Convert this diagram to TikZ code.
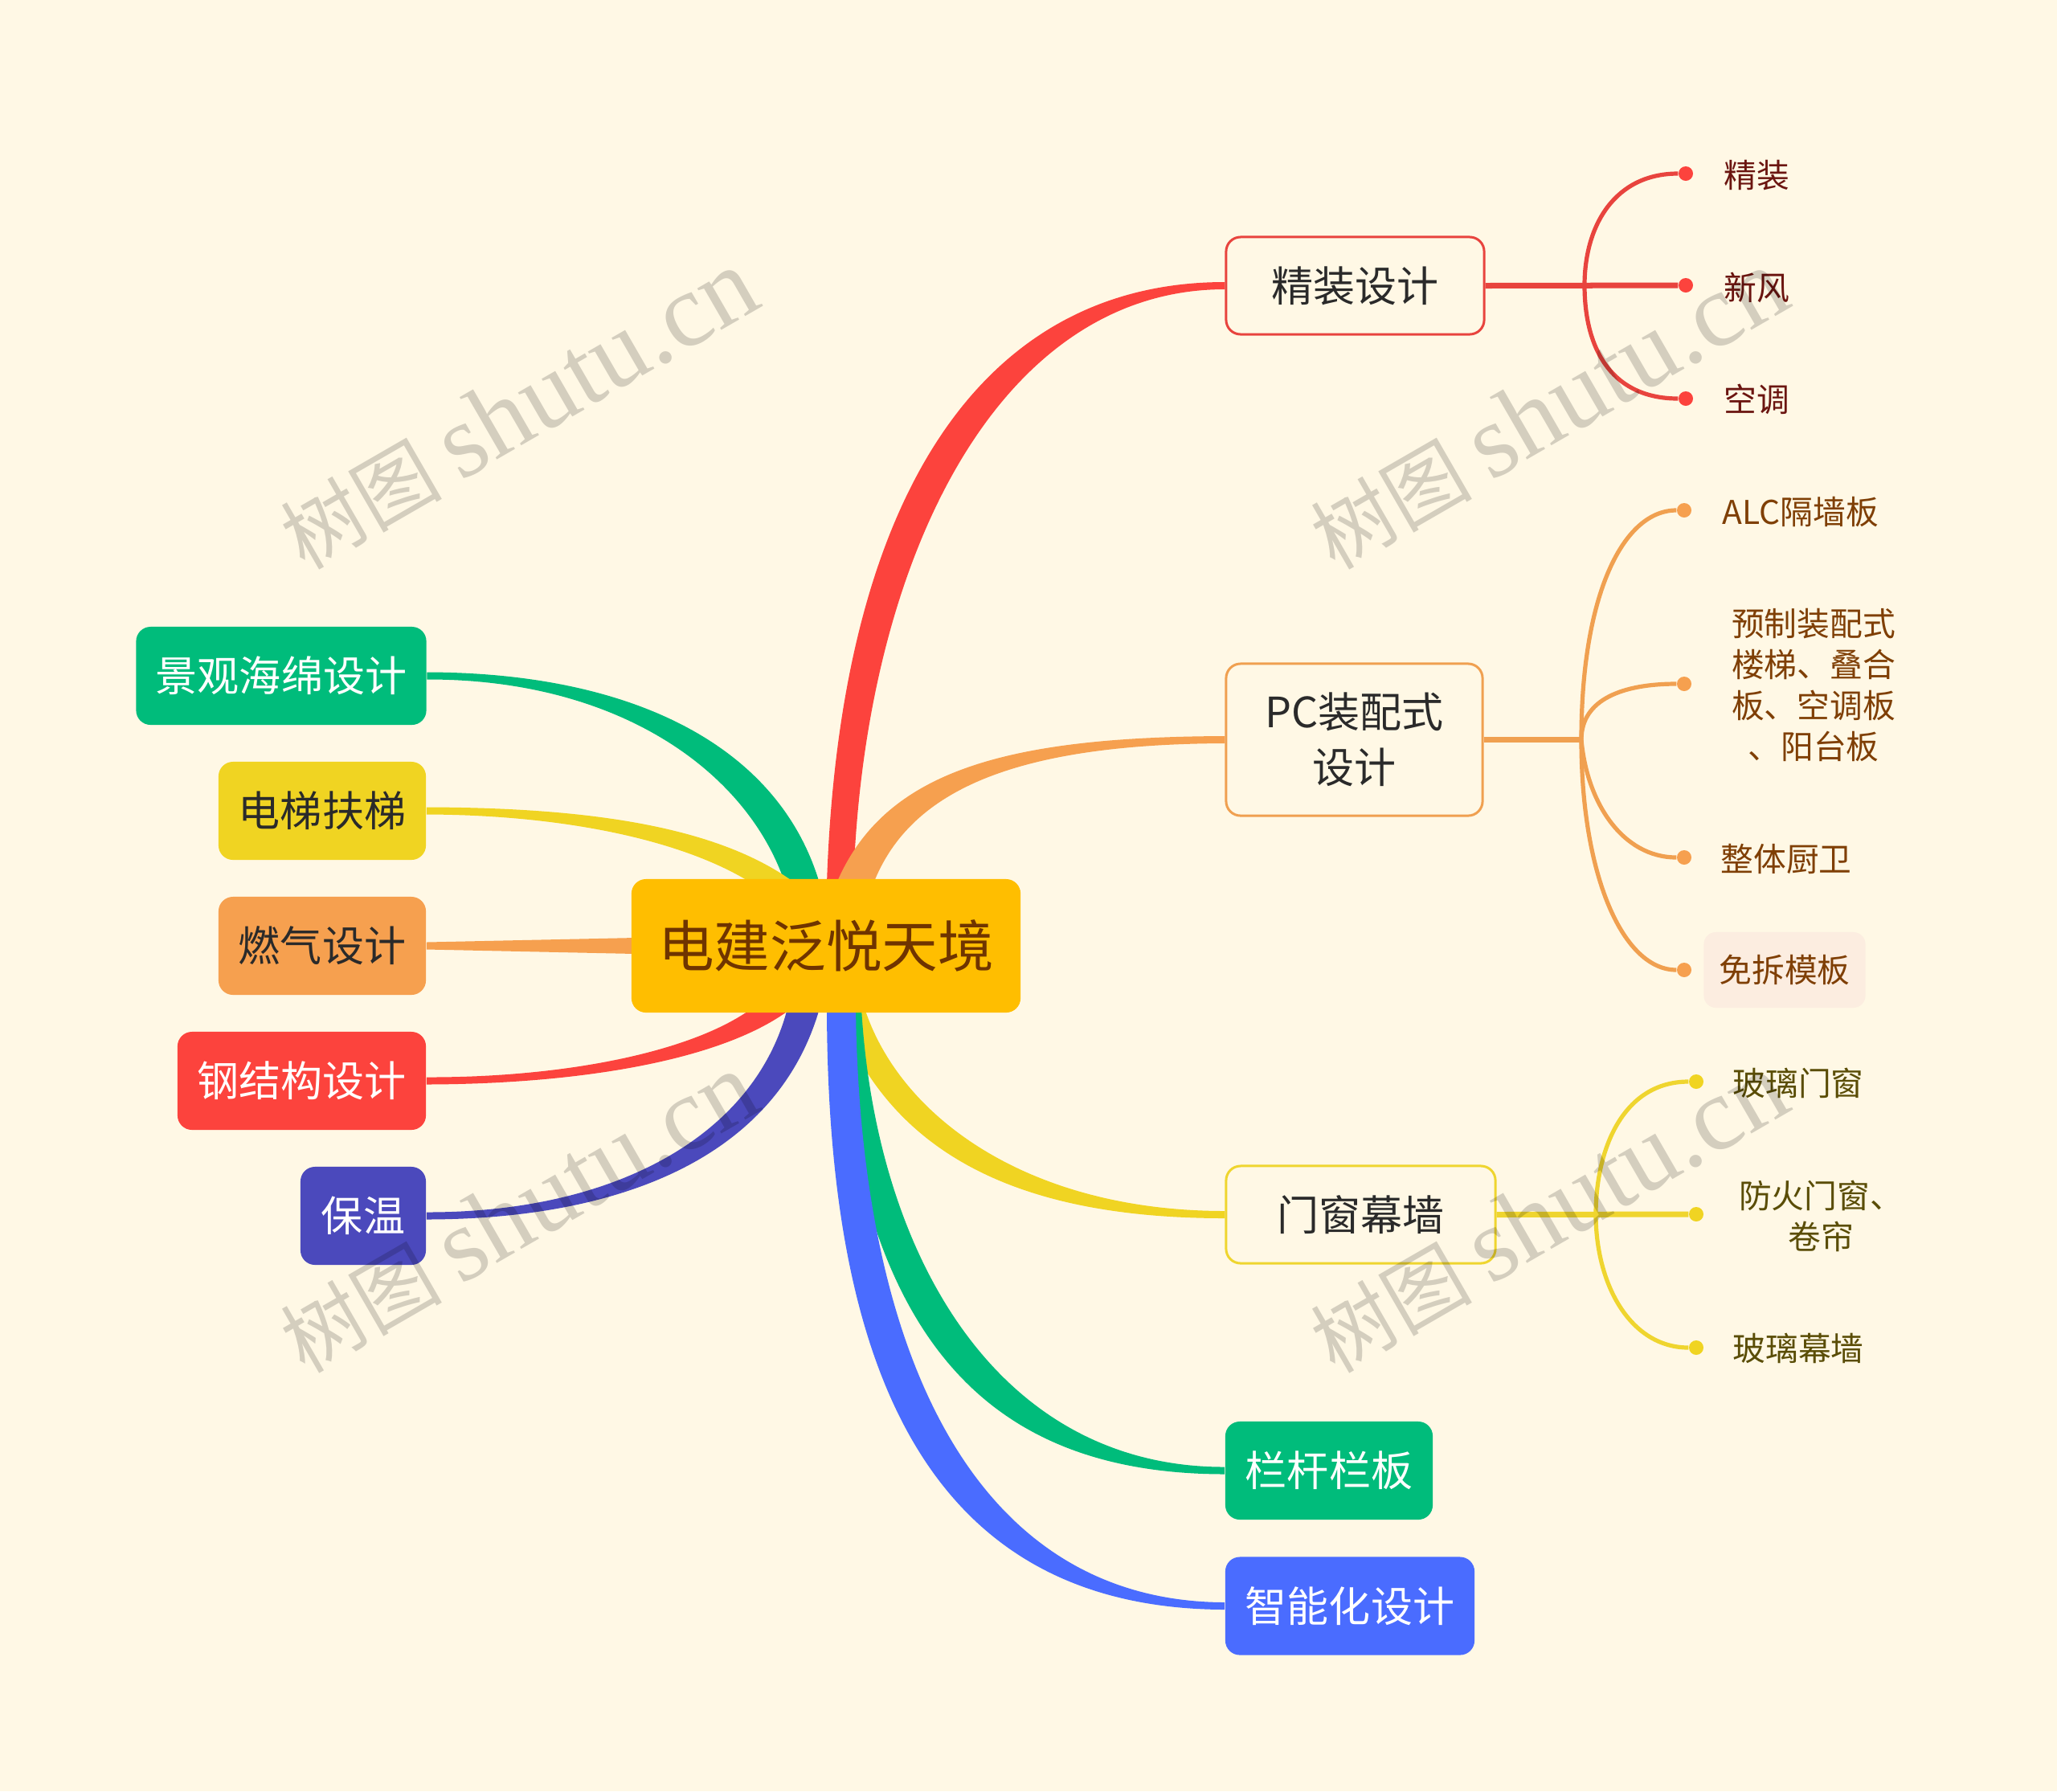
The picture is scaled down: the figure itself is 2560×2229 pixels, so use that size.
\documentclass[tikz,border=0pt]{standalone}
\usepackage{fontspec}
\usetikzlibrary{backgrounds}
\setmainfont{Noto Sans CJK SC}
\newfontfamily\marklatin[AutoFakeSlant=0.2]{Liberation Serif}
\newfontfamily\markcjk[AutoFakeSlant=0.2]{Noto Sans CJK SC}

\definecolor{bgCream}{HTML}{FFF8E5}
\definecolor{rootGold}{HTML}{FFBE00}
\definecolor{rootText}{HTML}{6F3400}
\definecolor{cRed}{HTML}{FC433D}
\definecolor{cRedLine}{HTML}{E8443E}
\definecolor{cRedText}{HTML}{6B1510}
\definecolor{cOrange}{HTML}{F6A04F}
\definecolor{cOrangeLine}{HTML}{F0A050}
\definecolor{cOrangeText}{HTML}{7F3F05}
\definecolor{cYellow}{HTML}{F0D422}
\definecolor{cYellowLine}{HTML}{EFD52F}
\definecolor{cYellowText}{HTML}{5A4D06}
\definecolor{cGreen}{HTML}{00BC7B}
\definecolor{cBlue}{HTML}{4A6CFF}
\definecolor{cIndigo}{HTML}{4B49BC}
\definecolor{darkText}{HTML}{2A2A2A}
\definecolor{peach}{HTML}{FCEDE0}

\begin{document}
\begin{tikzpicture}[x=0.01cm, y=-0.01cm]

    % Set the canvas size
    \useasboundingbox (0,0) rectangle (2560,2229);

    % Define styles
    \tikzset{
        topic/.style={rounded corners=0.18cm, inner sep=0pt, align=center, font=\fontsize{14.8}{19.6}\selectfont},
        solid box/.style={topic, minimum height=1.22cm},
        line box/.style={topic, line width=0.03cm, fill=bgCream, text=darkText},
        leaf/.style={inner sep=0pt, align=center, font=\fontsize{11.6}{14.5}\selectfont},
        tip/.style={circle, inner sep=0pt, minimum size=0.18cm},
        sub/.style={line width=0.052cm},
        stem/.style={line width=0.07cm},
        thinup/.style={yshift=0.045cm},
        thindn/.style={yshift=-0.045cm},
    }

    % Root and first level topics
    \node[topic, fill=rootGold, text=rootText, minimum width=4.84cm, minimum height=1.66cm, font=\fontsize{19.8}{24}\selectfont] (root) at (1028,1177) {电建泛悦天境};

    \node[line box, draw=cRedLine, minimum width=3.21cm, minimum height=1.21cm] (jz) at (1686.5,355.5) {精装设计};
    \node[line box, draw=cOrangeLine, minimum width=3.19cm, minimum height=1.89cm] (pc) at (1685.5,920.5) {PC装配式\\设计};
    \node[line box, draw=cYellowLine, minimum width=3.35cm, minimum height=1.21cm] (mc) at (1693.5,1511.5) {门窗幕墙};
    \node[solid box, fill=cGreen, text=white, minimum width=2.58cm] (lg) at (1654,1830) {栏杆栏板};
    \node[solid box, fill=cBlue, text=white, minimum width=3.10cm] (zn) at (1680,1998.5) {智能化设计};

    \node[solid box, fill=cGreen, text=white, minimum width=3.61cm] (jg) at (350,841) {景观海绵设计};
    \node[solid box, fill=cYellow, text=darkText, minimum width=2.58cm] (dt) at (401,1009) {电梯扶梯};
    \node[solid box, fill=cOrange, text=darkText, minimum width=2.58cm] (rq) at (401,1177) {燃气设计};
    \node[solid box, fill=cRed, text=white, minimum width=3.09cm] (gj) at (375.5,1345) {钢结构设计};
    \node[solid box, fill=cIndigo, text=white, minimum width=1.56cm] (bw) at (452,1513) {保温};

    % Tapered branches, lower ones first
    \begin{scope}[on background layer]
        \fill[bgCream] (0,0) rectangle (2560,2229);

        \fill[cRed] ([thinup]jz.west) .. controls (1220,351) and (1045,620) .. ([xshift=0.01cm,yshift=-0.06cm]root.north)
            -- ([xshift=0.34cm,yshift=-0.06cm]root.north) .. controls (1075,700) and (1240,360) .. ([thindn]jz.west) -- cycle;
        \fill[cOrange] ([thinup]pc.west) .. controls (1250,917) and (1100,960) .. ([xshift=0.13cm,yshift=-0.06cm]root.north)
            -- ([xshift=0.59cm,yshift=-0.06cm]root.north) .. controls (1130,990) and (1250,926) .. ([thindn]pc.west) -- cycle;

        \fill[cGreen] ([thinup]jg.east) .. controls (790,837) and (970,930) .. ([xshift=-0.08cm,yshift=-0.06cm]root.north)
            -- ([xshift=-0.51cm,yshift=-0.06cm]root.north) .. controls (930,960) and (770,845) .. ([thindn]jg.east) -- cycle;
        \fill[cYellow] ([thindn]dt.east) .. controls (700,1014) and (850,1045) .. ([xshift=-0.92cm,yshift=-0.06cm]root.north)
            -- ([xshift=-0.38cm,yshift=-0.06cm]root.north) .. controls (890,1025) and (720,1005) .. ([thinup]dt.east) -- cycle;
        \fill[cOrange] ([thinup]rq.east) -- ([xshift=0.06cm,yshift=0.10cm]root.west) -- ([xshift=0.06cm,yshift=-0.10cm]root.west) -- ([thindn]rq.east) -- cycle;

        \fill[cRed] ([thinup]gj.east) .. controls (700,1341) and (860,1310) .. ([xshift=-0.92cm,yshift=0.06cm]root.south)
            -- ([xshift=-0.43cm,yshift=0.06cm]root.south) .. controls (900,1320) and (720,1349) .. ([thindn]gj.east) -- cycle;
        \fill[cIndigo] ([thinup]bw.east) .. controls (770,1509) and (940,1410) .. ([xshift=-0.48cm,yshift=0.06cm]root.south)
            -- ([xshift=-0.08cm,yshift=0.06cm]root.south) .. controls (970,1430) and (790,1517) .. ([thindn]bw.east) -- cycle;

        \fill[cYellow] ([thinup]mc.west) .. controls (1280,1507) and (1120,1390) .. ([xshift=0.48cm,yshift=0.06cm]root.south)
            -- ([xshift=0.12cm,yshift=0.06cm]root.south) .. controls (1110,1450) and (1290,1516) .. ([thindn]mc.west) -- cycle;
        \fill[cGreen] ([thinup]lg.west) .. controls (1240,1826) and (1090,1560) .. ([xshift=0.44cm,yshift=0.06cm]root.south)
            -- ([xshift=0.12cm,yshift=0.06cm]root.south) .. controls (1070,1680) and (1240,1834) .. ([thindn]lg.west) -- cycle;
        \fill[cBlue] ([thinup]zn.west) .. controls (1210,1993) and (1070,1680) .. ([xshift=0.37cm,yshift=0.06cm]root.south)
            -- ([xshift=0.01cm,yshift=0.06cm]root.south) .. controls (1030,1680) and (1140,2002) .. ([thindn]zn.west) -- cycle;
    \end{scope}

    % Leaves of the red topic
    \node[tip, fill=cRed] (jzd1) at (2098,216) {};
    \node[tip, fill=cRed] (jzd2) at (2098,355) {};
    \node[tip, fill=cRed] (jzd3) at (2098,496) {};
    \coordinate (jzj) at (1972,355);
    \draw[stem, cRedLine] (jz.east) -- (jzd2);
    \draw[sub, cRedLine] (jzj) .. controls (1972,280) and (2010,216) .. (jzd1);
    \draw[sub, cRedLine] (jzj) .. controls (1972,440) and (2010,496) .. (jzd3);
    \node[leaf, text=cRedText] (jzl1) at (2186,218) {精装};
    \node[leaf, text=cRedText] (jzl2) at (2186,358) {新风};
    \node[leaf, text=cRedText] (jzl3) at (2186,497) {空调};

    % Leaves of the orange topic
    \node[tip, fill=cOrange] (pcd1) at (2096,635) {};
    \node[tip, fill=cOrange] (pcd2) at (2096,851) {};
    \node[tip, fill=cOrange] (pcd3) at (2096,1067) {};
    \node[tip, fill=cOrange] (pcd4) at (2096,1207) {};
    \coordinate (pcj) at (1968,920.5);
    \draw[stem, cOrangeLine] (pc.east) -- (pcj);
    \draw[sub, cOrangeLine] (pcj) .. controls (1968,740) and (2020,635) .. (pcd1);
    \draw[sub, cOrangeLine] (pcj) .. controls (1968,870) and (2020,851) .. (pcd2);
    \draw[sub, cOrangeLine] (pcj) .. controls (1975,1000) and (2020,1067) .. (pcd3);
    \draw[sub, cOrangeLine] (pcj) .. controls (1968,1090) and (2020,1207) .. (pcd4);
    \node[leaf, text=cOrangeText] (pcl1) at (2241,637) {ALC隔墙板};
    \node[leaf, text=cOrangeText] (pcl2) at (2257,853) {预制装配式\\楼梯、叠合\\板、空调板\\、阳台板};
    \node[leaf, text=cOrangeText] (pcl3) at (2223,1069) {整体厨卫};
    \node[leaf, text=cOrangeText, fill=peach, rounded corners=0.15cm, minimum width=2.01cm, minimum height=0.94cm] (pcl4) at (2221,1207) {免拆模板};

    % Leaves of the yellow topic
    \node[tip, fill=cYellow] (mcd1) at (2111,1346) {};
    \node[tip, fill=cYellow] (mcd2) at (2111,1511) {};
    \node[tip, fill=cYellow] (mcd3) at (2111,1677) {};
    \coordinate (mcj) at (1986,1511);
    \draw[stem, cYellowLine] (mc.east) -- (mcd2);
    \draw[sub, cYellowLine] (mcj) .. controls (1986,1430) and (2020,1346) .. (mcd1);
    \draw[sub, cYellowLine] (mcj) .. controls (1986,1600) and (2030,1677) .. (mcd3);
    \node[leaf, text=cYellowText] (mcl1) at (2238,1348) {玻璃门窗};
    \node[leaf, text=cYellowText] (mcl2) at (2266,1513) {防火门窗、\\卷帘};
    \node[leaf, text=cYellowText] (mcl3) at (2238,1678) {玻璃幕墙};

    % Marks laid over everything
    \foreach \i/\mx/\my in {1/645/510, 2/1927/510, 3/645/1510, 4/1927/1510} {
        \node[rotate=30, text=black, text opacity=0.17, inner sep=0pt] (mark\i) at (\mx,\my) {\fontsize{28.6}{34}\selectfont\markcjk 树图 \fontsize{37}{34}\selectfont\marklatin shutu.cn};
    }

\end{tikzpicture}
\end{document}
